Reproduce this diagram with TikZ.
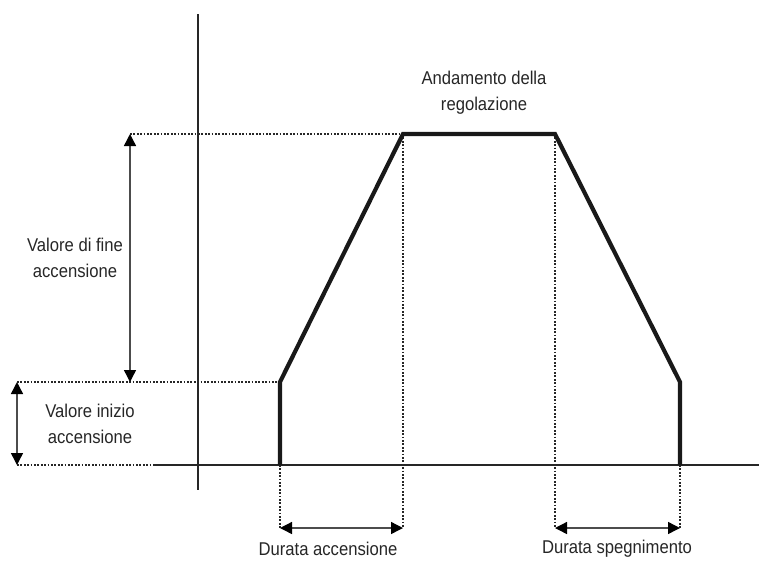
\documentclass[tikz,border=0pt]{standalone}
\usepackage{fontspec}
\setmainfont[FakeStretch=0.9]{Liberation Sans}
\usetikzlibrary{arrows.meta}
\begin{document}
\begin{tikzpicture}[x=1pt,y=-1pt,
  axis/.style={line width=1.8pt,draw=black!85},
  curve/.style={line width=4.2pt,draw=black!90,line join=miter},
  guide/.style={line width=1.8pt,draw=black!85,dash pattern=on 1.8pt off 1.6pt},
  dim/.style={line width=1.4pt,draw=black!70,{Triangle[length=12pt,width=12pt,color=black]}-{Triangle[length=12pt,width=12pt,color=black]}},
  lbl/.style={font=\fontsize{18.5}{26}\selectfont,align=center,inner sep=0pt,text=black!85}]
\useasboundingbox (0,0) rectangle (759,560);
% key points
\coordinate (o0) at (280,465);
\coordinate (o1) at (280,382);
\coordinate (t0) at (403,134);
\coordinate (t1) at (555,134);
\coordinate (f1) at (680,382);
\coordinate (f0) at (680,465);
% axes
\coordinate (ya) at (198,14);
\coordinate (yb) at (198,490);
\coordinate (xa) at (155,465);
\coordinate (xb) at (759,465);
\draw[axis] (ya) -- (yb);
\draw[axis] (xa) -- (xb);
% guides
\coordinate (g1) at (130,134);
\coordinate (g2) at (17,382);
\coordinate (g3) at (17,465);
\coordinate (d0) at (280,528);
\coordinate (d1) at (403,528);
\coordinate (d2) at (555,528);
\coordinate (d3) at (680,528);
\draw[guide] (g1) -- (t0);
\draw[guide] (g2) -- (o1);
\draw[guide] (g3) -- (xa);
\draw[guide] (o0) -- (d0);
\draw[guide] (t0) -- (d1);
\draw[guide] (t1) -- (d2);
\draw[guide] (f0) -- (d3);
% curve
\draw[curve] (o0) -- (o1) -- (t0) -- (t1) -- (f1) -- (f0);
% dimension arrows
\coordinate (a1) at (130,382);
\draw[dim] (a1) -- (g1);
\draw[dim] (g2) -- (g3);
\draw[dim] (d0) -- (d1);
\draw[dim] (d2) -- (d3);
% labels
\node[lbl] (lfine) at (75,258) {Valore di fine\\accensione};
\node[lbl] (linizio) at (90,424) {Valore inizio\\accensione};
\node[lbl] (landam) at (484,93) {Andamento della\\regolazione};
\node[lbl] (ldon) at (328,549) {Durata accensione};
\node[lbl] (ldoff) at (617,549) {Durata spegnimento};
\end{tikzpicture}
\end{document}
